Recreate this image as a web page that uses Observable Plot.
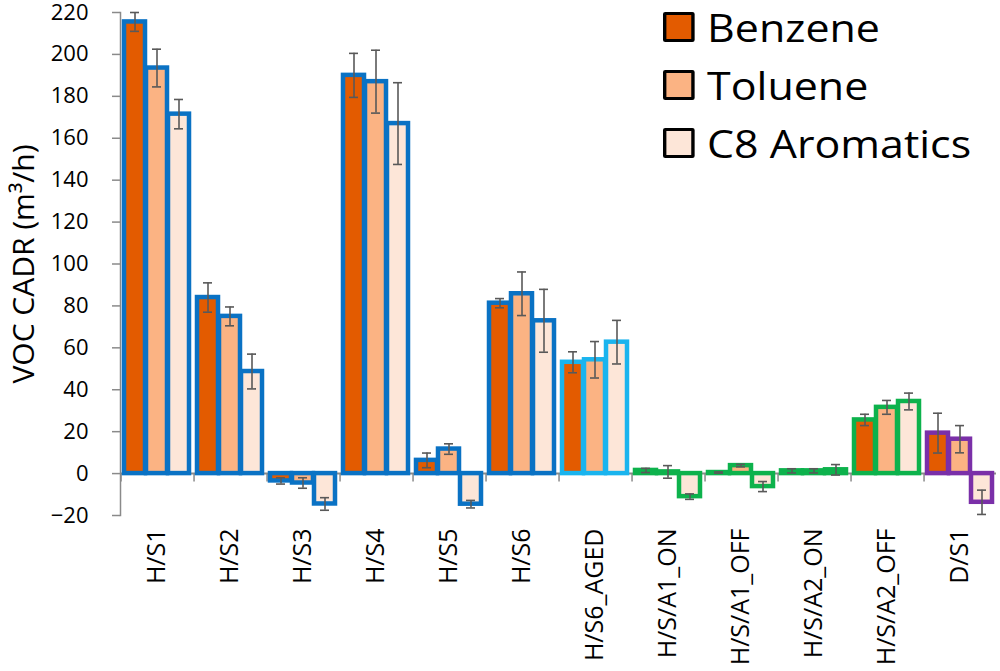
<!DOCTYPE html>
<html>
<head>
<meta charset="utf-8">
<script src="https://cdn.jsdelivr.net/npm/d3@7"></script>
<script src="https://cdn.jsdelivr.net/npm/@observablehq/plot@0.6"></script>
<style>
  html, body { margin: 0; padding: 0; background: #fff; }
  #wrap { position: relative; width: 1000px; height: 671px; font-family: "Open Sans", Lato, sans-serif; }
  #chart svg { overflow: visible; }
  #legend { position: absolute; left: 663px; top: -2px; transform: scaleX(1.13); transform-origin: 0 0; }
  .item { display: flex; align-items: center; height: 58px; font-size: 38px; color: #000; }
  .sw { width: 22px; height: 24px; border: 3px solid #000; border-radius: 2px; margin-right: 11px; }
</style>
</head>
<body>
<div id="wrap"><div id="chart"></div><div id="legend"></div></div>
<script>
// ---- data ----
const categories = ["H/S1","H/S2","H/S3","H/S4","H/S5","H/S6","H/S6_AGED","H/S/A1_ON","H/S/A1_OFF","H/S/A2_ON","H/S/A2_OFF","D/S1"];
const seriesNames = ["Benzene","Toluene","C8 Aromatics"];
const benzene    = [215.5, 84.0, -3.5, 190.0,  6.3, 81.3, 53.1,   1.5,  0.5, 1.3, 25.6, 19.3];
const benzeneErr = [  4.5,  7.0,  1.5,  10.5,  3.5,  2.2,  5.0,  1.0,  0.3, 1.0,  2.7,  9.5];
const toluene    = [193.5, 75.0, -4.5, 187.0, 11.7, 85.8, 54.3,   0.8,  3.8, 1.3, 31.6, 16.4];
const tolueneErr = [  9.0,  4.5,  2.5,  15.0,  2.5, 10.4,  8.7,  3.0,  0.6, 1.0,  3.3,  6.5];
const c8         = [171.5, 48.7,-14.5, 167.0,-14.6, 72.9, 62.7, -11.0, -6.2, 1.8, 34.4,-13.7];
const c8Err      = [  7.0,  8.3,  3.0,  19.5,  1.8, 15.0, 10.4,  1.3,  2.4, 2.5,  4.0,  5.8];
const yTicks = [-20, 0, 20, 40, 60, 80, 100, 120, 140, 160, 180, 200, 220];

// ---- styles ----
const fills = ["#E35B00", "#FBB383", "#FDE6D8"];
const outlineColors = {blue: "#0A72C4", light: "#1AB4EE", green: "#0DB24C", purple: "#7A2FA8"};
const outlineOf = (c) => c === "D/S1" ? "purple" : c.includes("/A") ? "green" : c.includes("AGED") ? "light" : "blue";
const gray = "#8A8A8A";
const font = "'Open Sans', Lato, sans-serif";

const valueSets = [benzene, toluene, c8];
const errSets = [benzeneErr, tolueneErr, c8Err];
const rows = [];
categories.forEach((cat, i) => {
  seriesNames.forEach((s, j) => {
    rows.push({cat, series: s, value: valueSets[j][i], err: errSets[j][i], outline: outlineOf(cat)});
  });
});

const width = 1000, height = 671;
const marginLeft = 116, marginRight = 0, marginTop = 12, marginBottom = 156;
const xPadInner = 0.04, xPadOuter = 0.13;
// offset from center of first band to facet's left edge (for category separator ticks)
const facetW = (width - marginLeft - marginRight) / categories.length;
const step = facetW / (seriesNames.length - xPadInner + 2 * xPadOuter);
const sepOffset = xPadOuter * step + step * (1 - xPadInner) / 2;

const tickSymbol = {draw(ctx) { ctx.moveTo(0, 0); ctx.lineTo(0, 8); }};

const barMarks = Object.keys(outlineColors).map(k =>
  Plot.barY(rows.filter(d => d.outline === k), {
    fx: "cat", x: "series", y: "value", fill: "series",
    stroke: outlineColors[k], strokeWidth: 4.5, strokeLinejoin: "miter"
  })
);

const chart = Plot.plot({
  width, height, marginLeft, marginRight, marginTop, marginBottom,
  style: {fontFamily: font, color: "#000", background: "#fff", overflow: "visible"},
  fx: {domain: categories, padding: 0, label: null},
  x: {domain: seriesNames, paddingInner: xPadInner, paddingOuter: xPadOuter, axis: null},
  y: {domain: [-20, 220], label: null},
  color: {domain: seriesNames, range: fills},
  marks: [
    Plot.frame({anchor: "left", stroke: gray, strokeWidth: 1.5, facetAnchor: "left"}),
    Plot.axisY({ticks: yTicks, tickSize: 8, tickPadding: 24, stroke: gray, strokeWidth: 1.5, fill: "#000", fontSize: 22, label: null}),
    Plot.axisY({ticks: [], tickSize: 0, label: "VOC CADR (m³/h)", labelAnchor: "center", labelArrow: "none", labelOffset: 108, fontSize: 30, fill: "#000"}),
    Plot.axisFx({anchor: "bottom", tickRotate: -90, tickSize: 0, tickPadding: 13, fontSize: 25, fill: "#000", label: null}),
    Plot.ruleY([0], {stroke: gray, strokeWidth: 2}),
    Plot.dot([0], {x: () => seriesNames[0], y: 0, dx: -sepOffset, symbol: tickSymbol, stroke: gray, strokeWidth: 1.5, fill: "none"}),
    ...barMarks,
    Plot.ruleX(rows, {fx: "cat", x: "series", y1: d => d.value - d.err, y2: d => d.value + d.err, stroke: "#595959", strokeWidth: 1.6}),
    Plot.tickY(rows, {fx: "cat", x: "series", y: d => d.value - d.err, stroke: "#595959", strokeWidth: 1.6, insetLeft: 6, insetRight: 6}),
    Plot.tickY(rows, {fx: "cat", x: "series", y: d => d.value + d.err, stroke: "#595959", strokeWidth: 1.6, insetLeft: 6, insetRight: 6})
  ]
});
document.getElementById("chart").appendChild(chart);

const legend = document.getElementById("legend");
seriesNames.forEach((s, j) => {
  const item = document.createElement("div");
  item.className = "item";
  const sw = document.createElement("div");
  sw.className = "sw";
  sw.style.background = fills[j];
  const label = document.createElement("span");
  label.textContent = s;
  item.appendChild(sw);
  item.appendChild(label);
  legend.appendChild(item);
});
</script>
</body>
</html>
